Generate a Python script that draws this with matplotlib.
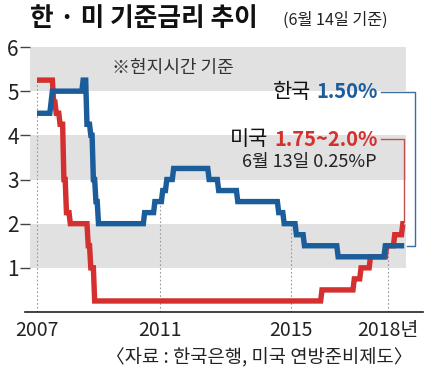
import matplotlib
matplotlib.use("Agg")
import matplotlib.pyplot as plt
import numpy as np

plt.rcParams['font.family'] = ['Noto Sans CJK KR', 'DejaVu Sans']

# ---- data: rate change dates (fractional years) and new rate (%) ----
kr_dates = [2007.00, 2007.42, 2007.50, 2008.50, 2008.62, 2008.72, 2008.80, 2008.88, 2008.96,
            2010.50, 2010.80, 2011.05, 2011.20, 2011.40, 2012.48, 2012.76, 2013.35,
            2014.60, 2014.76, 2015.16, 2015.40, 2016.42, 2017.88]
kr_rates = [4.50, 4.75, 5.00, 5.25, 4.25, 4.00, 3.00, 2.50, 2.00,
            2.25, 2.50, 2.75, 3.00, 3.25, 3.00, 2.75, 2.50,
            2.25, 2.00, 1.75, 1.50, 1.25, 1.50]
kr_end = 2018.54

us_dates = [2007.00, 2007.52, 2007.62, 2007.72, 2007.84, 2007.92, 2008.08,
            2008.66, 2008.74, 2008.84, 2015.92, 2016.94, 2017.16, 2017.42, 2017.92,
            2018.20, 2018.45]
us_rates = [5.25, 4.75, 4.50, 4.25, 3.00, 2.25, 2.00,
            1.50, 1.00, 0.25, 0.50, 0.75, 1.00, 1.25, 1.50,
            1.75, 2.00]
us_end = 2018.50

year_ticks = [2007, 2011, 2015, 2018]
year_labels = ['2007', '2011', '2015', '2018년']
y_ticks = [1, 2, 3, 4, 5, 6]
bands = [(1, 2), (3, 4), (5, 6)]

BLUE = '#1b5c9b'
RED = '#d3302f'
GRAY = '#e1e1e1'

W, H = 430, 375
fig = plt.figure(figsize=(W / 100, H / 100), dpi=100)
ax = fig.add_axes([25 / W, (H - 312) / H, 398 / W, (312 - 47) / H])

# slightly uneven year spacing of the original graphic (piecewise-linear scale)
_t_anchor = np.array([2005.0, 2007.0, 2011.0, 2015.0, 2018.0, 2021.0])
_p_anchor = np.array([-24.5, 37.0, 160.0, 291.0, 388.0, 485.0])
def _fwd(t):
    return np.interp(t, _t_anchor, _p_anchor)
def _inv(p):
    return np.interp(p, _p_anchor, _t_anchor)
ax.set_xscale('function', functions=(_fwd, _inv))
ax.set_xlim(_inv(25), _inv(423))
ax.set_ylim(0, 6)

band_l, band_r = _inv(30), _inv(406)
for lo, hi in bands:
    ax.fill_between([band_l, band_r], lo, hi, color=GRAY, lw=0, zorder=0)

def step_val(dates, rates, t):
    idx = np.searchsorted(dates, t, side='right') - 1
    return np.asarray(rates)[np.clip(idx, 0, None)]

# dotted year lines up to the higher series
for yr in year_ticks:
    top = max(step_val(kr_dates, kr_rates, yr), step_val(us_dates, us_rates, yr))
    ax.plot([yr, yr], [0, top], ls=(0, (1.5, 2)), color='#999999', lw=0.8, zorder=1)

# half-monthly sampling, joined by straight segments (like the original graphic)
def sampled(dates, rates, end):
    t = np.arange(dates[0], end + 1e-9, 1 / 24)
    return t, step_val(dates, rates, t)

ut, uv = sampled(us_dates, us_rates, us_end)
kt, kv = sampled(kr_dates, kr_rates, kr_end)
ax.plot(ut, uv, color=RED, lw=3.9, solid_joinstyle='miter', solid_capstyle='butt',
        zorder=3, clip_on=False)
ax.plot(kt, kv, color=BLUE, lw=3.9, solid_joinstyle='miter', solid_capstyle='butt',
        zorder=4, clip_on=False)

for s in ['top', 'right', 'left']:
    ax.spines[s].set_visible(False)
ax.spines['bottom'].set_linewidth(1.2)
ax.spines['bottom'].set_color('#222222')

ax.set_yticks(y_ticks)
ax.set_yticklabels([str(v) for v in y_ticks], fontsize=15, color='#222222')
ax.tick_params(axis='y', direction='inout', length=7, width=1, color='#444444', pad=1)
ax.set_xticks(year_ticks)
ax.set_xticks([], minor=True)
ax.set_xticklabels(year_labels, fontsize=14, color='#222222')
ax.tick_params(axis='x', length=0, pad=6)

# title
fig.text(30 / W, 1 - 19 / H, '한 · 미 기준금리 추이', fontsize=18.5, fontweight='bold',
         color='#111111', ha='left', va='center')
fig.text(283 / W, 1 - 20 / H, '(6월 14일 기준)', fontsize=11.7, color='#222222',
         ha='left', va='center')

fig.text(112 / W, 1 - 68 / H, '※현지시간 기준', fontsize=13, color='#333333',
         ha='left', va='center')

# value labels: number right-aligned, country name placed just left of it
renderer = fig.canvas.get_renderer()
def label_pair(name, value, color, y):
    num = fig.text(378 / W, 1 - y / H, value, fontsize=14.5, fontweight='bold',
                   color=color, ha='right', va='center')
    bb = num.get_window_extent(renderer=renderer)
    fig.text((bb.x0 - 6) / W, 1 - y / H, name, fontsize=15, color='#111111',
             ha='right', va='center')

label_pair('한국', '1.50%', BLUE, 92)
label_pair('미국', '1.75~2.0%', RED, 139)
fig.text(377 / W, 1 - 162 / H, '6월 13일 0.25%P', fontsize=13, color='#222222',
         ha='right', va='center')

# connectors (figure pixel coords)
def px(x, y):
    return x / W, 1 - y / H

xs, ys = zip(*[px(381, 92), px(415, 92), px(415, 246), px(407, 246)])
fig.add_artist(plt.Line2D(xs, ys, color='#3a6f9f', lw=1.0))
xs, ys = zip(*[px(381, 139), px(404, 139), px(404, 222)])
fig.add_artist(plt.Line2D(xs, ys, color='#c0504d', lw=1.0))

fig.text(413 / W, 1 - 358 / H, '〈자료 : 한국은행, 미국 연방준비제도〉', fontsize=13.5,
         color='#222222', ha='right', va='center')

fig.savefig('out.png', dpi=100, facecolor='white')
